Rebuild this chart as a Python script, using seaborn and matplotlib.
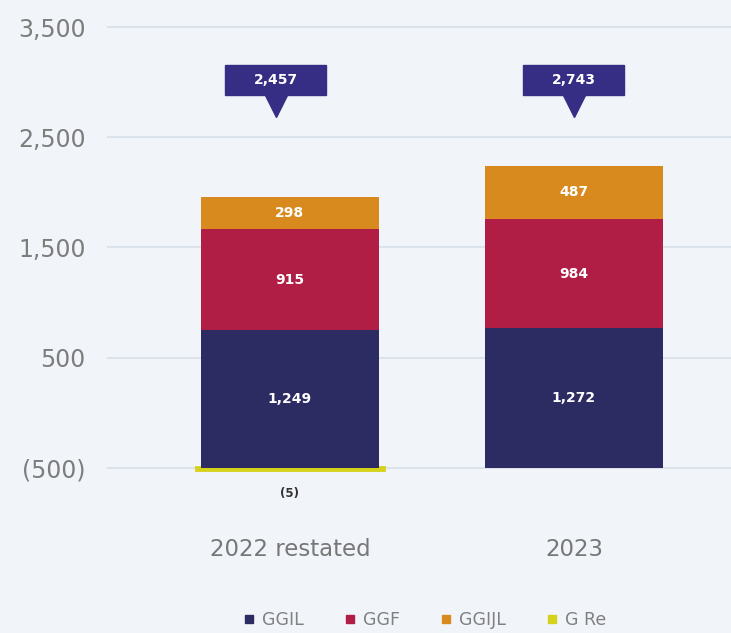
import matplotlib
matplotlib.use("Agg")
import matplotlib.pyplot as plt
from matplotlib.patches import Rectangle
import pandas as pd
import seaborn as sns

# data
years = ["2022 restated", "2023"]
ggil = [1249, 1272]
ggf = [915, 984]
ggijl = [298, 487]
gre = [-5, 0]
totals = [2457, 2743]

# axis ticks as shown (the chart labels its gridlines this way)
tick_pos = [0, 1000, 2000, 3000, 4000]
tick_labels = ["(500)", "500", "1,500", "2,500", "3,500"]

navy = "#2c2b62"
red = "#b01d45"
orange = "#d98a1e"
yellow = "#d6d21c"
callout = "#362d85"
bg = "#f1f5fa"

sns.set_style("white")
plt.rcParams["font.family"] = ["DejaVu Sans"]

df = pd.DataFrame({"year": years, "GGIL": ggil, "GGF": ggf, "GGIJL": ggijl, "G Re": gre})
df["c1"] = df["GGIL"]
df["c2"] = df["c1"] + df["GGF"]
df["c3"] = df["c2"] + df["GGIJL"]
neg = df[df["G Re"] != 0]

fig = plt.figure(figsize=(7.31, 6.33), dpi=100)
fig.patch.set_facecolor(bg)
ax = fig.add_axes([107 / 731, 113 / 633, 624 / 731, 520 / 633])
ax.set_facecolor(bg)

bw = 0.627
kw = dict(width=bw, saturation=1, ax=ax, zorder=3, linewidth=0, order=years)
sns.barplot(data=df, x="year", y="c3", color=orange, **kw)
sns.barplot(data=df, x="year", y="c2", color=red, **kw)
sns.barplot(data=df, x="year", y="c1", color=navy, **kw)
sns.barplot(data=neg, x="year", y="G Re", color=yellow, width=bw + 0.03, saturation=1, ax=ax,
            order=years, zorder=2, edgecolor=yellow, linewidth=3.5)

# segment labels
for i in range(len(years)):
    segs = [(0, df["c1"][i], ggil[i]), (df["c1"][i], df["c2"][i], ggf[i]), (df["c2"][i], df["c3"][i], ggijl[i])]
    for lo, hi, v in segs:
        ax.text(i, (lo + hi) / 2, f"{v:,}", ha="center", va="center", color="white",
                fontsize=10, fontweight="bold", zorder=5)
    if gre[i] != 0:
        ax.text(i, -230, f"({abs(gre[i])})", ha="center", va="center", color="#333333",
                fontsize=8.5, fontweight="bold")

# total callouts
offsets = [-0.05, 0.0]
for i, t in enumerate(totals):
    cx = i + offsets[i]
    ax.add_patch(Rectangle((cx - 0.178, 3385), 0.356, 272, color=callout, zorder=5))
    ax.plot(cx, 3290, marker="v", ms=17, color=callout, zorder=5)
    ax.text(cx, 3521, f"{t:,}", ha="center", va="center", color="white",
            fontsize=10, fontweight="bold", zorder=6)

ax.set_ylim(-472, 4245)
ax.set_xlim(-0.644, 1.553)
ax.set_yticks(tick_pos)
ax.set_yticklabels(tick_labels)
ax.yaxis.grid(True, color="#dce2ea", linewidth=1.5, zorder=0)
ax.set_axisbelow(True)
ax.tick_params(axis="y", length=0, labelsize=17, labelcolor="#7d7d7d", pad=15.5)
ax.tick_params(axis="x", length=0, labelsize=16.5, labelcolor="#777777", pad=13)
ax.set_xlabel("")
ax.set_ylabel("")
sns.despine(ax=ax, left=True, bottom=True)

# legend
handles = [plt.Line2D([], [], marker="s", ls="", ms=6, color=c) for c in [navy, red, orange, yellow]]
fig.legend(handles, ["GGIL", "GGF", "GGIJL", "G Re"], loc="center", bbox_to_anchor=(424 / 731, 1 - 620 / 633),
           ncol=4, frameon=False, fontsize=12.5, labelcolor="#808080", handlelength=0.9,
           handletextpad=0.3, columnspacing=2.2)

fig.savefig("out.png", dpi=100, facecolor=bg)
